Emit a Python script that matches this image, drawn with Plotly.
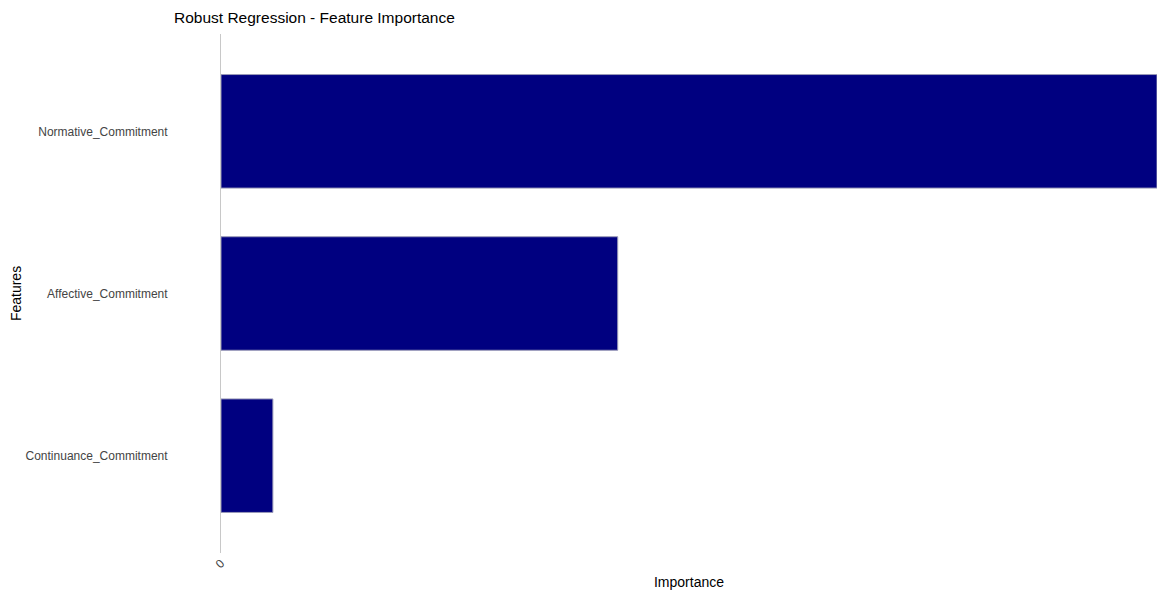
import plotly.graph_objects as go

# feature importance from the robust regression model
features = ["Continuance_Commitment", "Affective_Commitment", "Normative_Commitment"]
importance = [0.0158, 0.1208, 0.2850]

fig = go.Figure()
fig.add_trace(go.Bar(
    x=importance,
    y=features,
    orientation="h",
    marker=dict(color="#000080", line=dict(color="#9a9ab8", width=1)),
))

# page has an 8px body margin, so the figure is a bit smaller than the window
fig.update_layout(
    width=1162, height=588,
    margin=dict(l=213, r=13, t=26, b=43),
    paper_bgcolor="white", plot_bgcolor="white",
    font=dict(family="Liberation Sans, Arial", color="#444"),
    bargap=0.3,
    showlegend=False,
    title=dict(text="Robust Regression - Feature Importance",
               xref="container", x=166 / 1162, xanchor="left",
               yref="container", y=1 - 10 / 588, yanchor="middle",
               font=dict(size=15.5, color="black")),
)

fig.update_xaxes(
    range=[0, max(importance)],
    tickvals=[0], tickangle=-45,
    tickfont=dict(size=12, color="#444"),
    showgrid=False, zeroline=False, showline=False,
    automargin=False,
    title=dict(text="Importance", font=dict(size=14, color="black"), standoff=7),
)
fig.update_yaxes(
    range=[-0.6, 2.6],
    showgrid=False, zeroline=False,
    showline=True, linecolor="#c8c8c8", linewidth=1,
    ticklabelstandoff=50,
    automargin=False,
    tickfont=dict(size=12, color="#444"),
    title=dict(text="Features", font=dict(size=14, color="black"), standoff=0),
)

fig.write_html("out.html")
